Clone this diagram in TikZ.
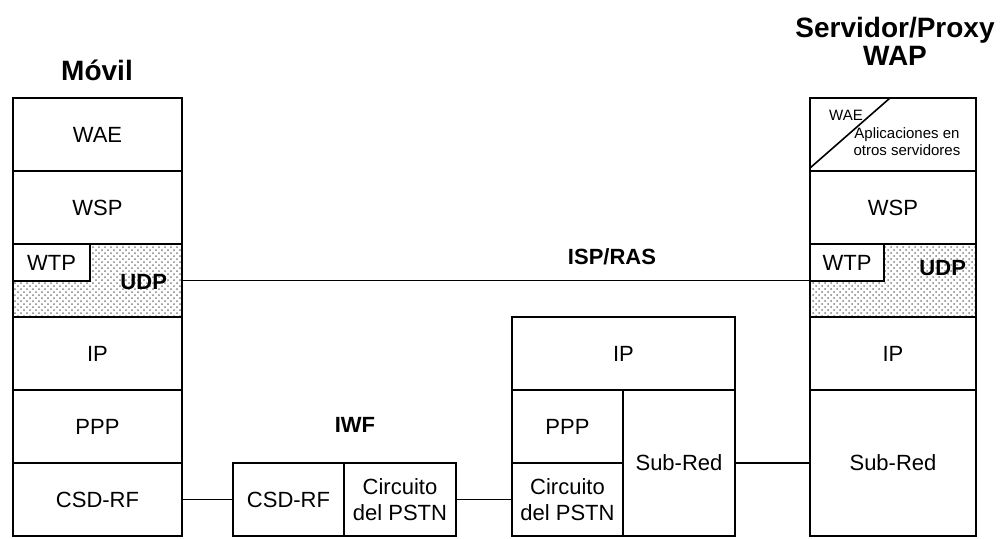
\documentclass[tikz,border=0pt]{standalone}
\usepackage{fontspec}
\setmainfont{Liberation Sans}
\usetikzlibrary{positioning,patterns}
\newcommand{\capafont}{\fontsize{11}{13}\selectfont}
\newcommand{\chicafont}{\fontsize{7.5}{8.5}\selectfont}
\newcommand{\titfont}{\fontsize{14}{14}\selectfont\bfseries}
\tikzset{
  capa/.style 2 args={rectangle,draw,line width=0.8pt,minimum width=#1,
    minimum height=#2,inner sep=0pt,outer sep=0pt,font=\capafont,
    align=center},
  moteado/.style={pattern=crosshatch dots,pattern color=gray},
  enlace/.style={line width=0.8pt},
  rotulo/.style={font=\capafont\bfseries},
  titulo/.style={font=\titfont,align=center},
}
\begin{document}
\begin{tikzpicture}[x=0.5pt,y=-0.5pt]
  \useasboundingbox (0,0) rectangle (1008,538);

  % Pila del movil
  \node[titulo] (tmovil) at (97,70) {Móvil};
  \node[capa={84.5pt}{36.5pt},anchor=north west] (m-wae) at (13,98) {WAE};
  \node[capa={84.5pt}{36.5pt},below=0pt of m-wae] (m-wsp) {WSP};
  \node[capa={84.5pt}{36.5pt},moteado,below=0pt of m-wsp] (m-udp) {};
  \node[capa={38.5pt}{18.5pt},fill=white,anchor=north west] (m-wtp)
    at (m-udp.north west) {WTP};
  \node[rotulo,anchor=east,xshift=-4pt,yshift=-1pt] (m-udpl)
    at (m-udp.east) {UDP};
  \node[capa={84.5pt}{36.5pt},below=0pt of m-udp] (m-ip) {IP};
  \node[capa={84.5pt}{36.5pt},below=0pt of m-ip] (m-ppp) {PPP};
  \node[capa={84.5pt}{36.5pt},below=0pt of m-ppp] (m-csd) {CSD-RF};

  % IWF
  \node[rotulo] (tiwf) at (355,425) {IWF};
  \node[capa={55.5pt}{36.5pt},anchor=north west] (i-csd) at (233,463) {CSD-RF};
  \node[capa={56pt}{36.5pt},right=0pt of i-csd] (i-pstn) {Circuito\\del PSTN};

  % ISP/RAS
  \node[rotulo] (tisp) at (612,257) {ISP/RAS};
  \node[capa={111.5pt}{36.5pt},anchor=north west] (r-ip) at (512,317) {IP};
  \node[capa={55.5pt}{36.5pt},anchor=north west] (r-ppp)
    at (r-ip.south west) {PPP};
  \node[capa={55.5pt}{36.5pt},below=0pt of r-ppp] (r-pstn) {Circuito\\del PSTN};
  \node[capa={56pt}{73pt},anchor=north east] (r-subred)
    at (r-ip.south east) {Sub-Red};

  % Pila del servidor
  \node[titulo] (tserv) at (895,41) {Servidor/Proxy\\WAP};
  \node[capa={83pt}{36.5pt},anchor=north west] (s-wae) at (810,98) {};
  \node[capa={83pt}{36.5pt},below=0pt of s-wae] (s-wsp) {WSP};
  \node[capa={83pt}{36.5pt},moteado,below=0pt of s-wsp] (s-udp) {};
  \node[capa={37pt}{18.5pt},fill=white,anchor=north west] (s-wtp)
    at (s-udp.north west) {WTP};
  \node[rotulo,anchor=east,xshift=-1.5pt,yshift=6pt] (s-udpl)
    at (s-udp.east) {UDP};
  \node[capa={83pt}{36.5pt},below=0pt of s-udp] (s-ip) {IP};
  \node[capa={83pt}{73pt},below=0pt of s-ip] (s-subred) {Sub-Red};
  \draw[enlace] ([yshift=1.5pt]s-wae.south west) -- ([xshift=40pt]s-wae.north west);
  \node[font=\chicafont] (s-waet) at (846,115) {WAE};
  \node[font=\chicafont,align=center] (s-apl) at (907,142)
    {Aplicaciones en\\otros servidores};

  % Enlaces
  \draw[enlace] (m-udp.east) -- (s-udp.west);
  \draw[enlace] (m-csd.east) -- (i-csd.west);
  \draw[enlace] (i-pstn.east) -- (r-pstn.west);
  \draw[enlace] (r-subred.east) -- (s-subred.west);
\end{tikzpicture}
\end{document}
